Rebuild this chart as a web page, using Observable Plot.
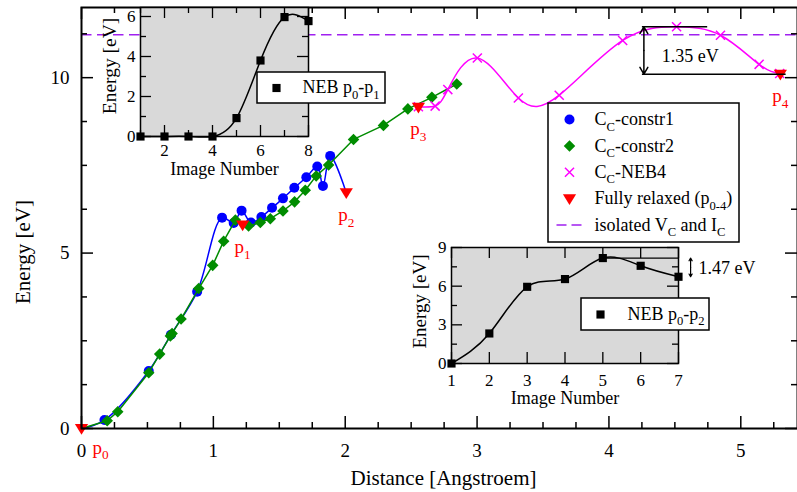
<!DOCTYPE html>
<html>
<head>
<meta charset="utf-8">
<script src="https://cdn.jsdelivr.net/npm/d3@7"></script>
<script src="https://cdn.jsdelivr.net/npm/@observablehq/plot@0.6"></script>
<style>
  body { margin: 0; background: #fff; }
  #chart { position: relative; width: 797px; height: 492px; overflow: hidden; background: #fff; }
  #chart svg { position: absolute; font-family: "Liberation Serif", "Times New Roman", serif !important; }
  #chart svg text { font-family: "Liberation Serif", "Times New Roman", serif !important; }
</style>
</head>
<body>
<div id="chart"></div>
<script>
// ---------------- DATA ----------------
const constr1X = [0, 0.174, 0.51, 0.678, 0.877, 1.066, 1.154, 1.214, 1.285, 1.364, 1.445, 1.528, 1.614, 1.705, 1.788, 1.831, 1.886, 2.008];
const constr1Y = [0, 0.24, 1.64, 2.67, 3.90, 6.01, 5.86, 6.21, 5.87, 6.03, 6.29, 6.56, 6.86, 7.16, 7.47, 6.91, 7.77, 6.72];

const constr2X = [0, 0.195, 0.275, 0.51, 0.593, 0.674, 0.687, 0.755, 0.889, 0.995, 1.078, 1.167, 1.267, 1.356, 1.432, 1.528, 1.616, 1.697, 1.78, 1.874, 2.063, 2.29, 2.475, 2.657, 2.846];
const constr2Y = [0, 0.22, 0.48, 1.59, 2.12, 2.64, 2.71, 3.12, 3.99, 4.65, 5.34, 5.94, 5.77, 5.87, 5.98, 6.20, 6.46, 6.79, 7.20, 7.51, 8.24, 8.64, 9.11, 9.44, 9.82];

const neb4X = [2.555, 2.682, 2.778, 3.002, 3.313, 3.623, 4.104, 4.513, 4.846, 5.139, 5.295];
const neb4Y = [9.17, 9.19, 9.66, 10.56, 9.42, 9.50, 11.06, 11.45, 11.21, 10.38, 10.12];

const relaxedNames = ["p_{0}", "p_{1}", "p_{2}", "p_{3}", "p_{4}"];
const relaxedX = [0, 1.222, 2.008, 2.555, 5.30];
const relaxedY = [0, 5.80, 6.72, 9.16, 10.10];

const isolatedEnergy = 11.22;

const legendLabels = ["C_{C}-constr1", "C_{C}-constr2", "C_{C}-NEB4", "Fully relaxed (p_{0-4})", "isolated V_{C} and I_{C}"];

// barrier annotation (main): peak of NEB4 vs p4
const mainBarrier = {label: "1.35 eV", x: 4.265, top: 11.45, bottom: 10.10, topEnd: 4.745, bottomEnd: 5.34, start: 4.25, labelX: 4.40, labelY: 10.62};

// inset 1 : NEB p0-p1
const neb01Image = [1, 2, 3, 4, 5, 6, 7, 8];
const neb01Energy = [0, 0, 0, 0, 0.92, 3.80, 5.97, 5.77];
const neb01Label = "NEB p_{0}-p_{1}";

// inset 2 : NEB p0-p2
const neb02Image = [1, 2, 3, 4, 5, 6, 7];
const neb02Energy = [0, 2.33, 5.95, 6.55, 8.18, 7.58, 6.73];
const neb02Label = "NEB p_{0}-p_{2}";
const insetBarrier = {label: "1.47 eV", x: 7.32, top: 8.18, bottom: 6.73, lineStart: 5, lineEnd: 7, labelX: 7.53, labelY: 7.37};

// tick labels
const mainXTicks = [0, 1, 2, 3, 4, 5];
const mainYTicks = [0, 5, 10];
const mainXMinor = [0.25, 0.5, 0.75, 1.25, 1.5, 1.75, 2.25, 2.5, 2.75, 3.25, 3.5, 3.75, 4.25, 4.5, 4.75, 5.25];
const mainYMinor = [1.25, 2.5, 3.75, 6.25, 7.5, 8.75, 11.25];
const in1XTicks = [2, 4, 6, 8], in1XMinor = [1, 3, 5, 7];
const in1YTicks = [0, 2, 4, 6], in1YMinor = [1, 3, 5];
const in2XTicks = [1, 2, 3, 4, 5, 6, 7];
const in2YTicks = [0, 3, 6, 9], in2YMinor = [1.5, 4.5, 7.5];

// ---------------- HELPERS ----------------
const zip = (xs, ys) => xs.map((x, i) => ({x, y: ys[i]}));
const c1 = zip(constr1X, constr1Y);
const c2 = zip(constr2X, constr2Y);
const neb4 = zip(neb4X, neb4Y);
const relaxed = relaxedX.map((x, i) => ({x, y: relaxedY[i], name: relaxedNames[i]}));
const neb01 = zip(neb01Image, neb01Energy);
const neb02 = zip(neb02Image, neb02Energy);

const FONT = '"Liberation Serif", "Times New Roman", serif';
const BLUE = "#0000ff", GREEN = "#008c00", MAGENTA = "#ff00ff", RED = "#ff0000", PURPLE = "#a020f0";
const T = {fontFamily: FONT, lineAnchor: "middle"};

const triangleDown = {
  draw(ctx, size) {
    const r = Math.sqrt(size / Math.PI);
    ctx.moveTo(-1.1 * r, -0.75 * r);
    ctx.lineTo(1.1 * r, -0.75 * r);
    ctx.lineTo(0, 1.05 * r);
    ctx.closePath();
  }
};

// page pixel -> data value (for decorations such as legend boxes)
const lin = (p0, p1, d0, d1) => p => d0 + (p - p0) / (p1 - p0) * (d1 - d0);

function boxTicks(xs, ys, len, fw, fh, sw) {
  const o = {stroke: "black", strokeWidth: sw};
  return [
    Plot.ruleX(xs, {x: d => d, insetTop: fh - len, ...o}),
    Plot.ruleX(xs, {x: d => d, insetBottom: fh - len, ...o}),
    Plot.ruleY(ys, {y: d => d, insetRight: fw - len, ...o}),
    Plot.ruleY(ys, {y: d => d, insetLeft: fw - len, ...o})
  ];
}

// ---------------- MAIN PLOT ----------------
const W = 797, H = 492;
const M = {top: 7, right: 0, bottom: 64, left: 81};
const FW = W - M.left - M.right, FH = H - M.top - M.bottom;
const xDom = [0, 5.43], yDom = [0, 12];
const X = lin(M.left, W - M.right, xDom[0], xDom[1]);
const Y = lin(H - M.bottom, M.top, yDom[0], yDom[1]);

const legRowY = i => 119 + i * 26.4;
const one = [0];

const main = Plot.plot({
  width: W, height: H,
  marginTop: M.top, marginRight: M.right, marginBottom: M.bottom, marginLeft: M.left,
  x: {domain: xDom, axis: null},
  y: {domain: yDom, axis: null},
  style: {"font-family": FONT, background: "white", overflow: "visible"},
  marks: [
    Plot.ruleY([isolatedEnergy], {y: d => d, stroke: PURPLE, strokeWidth: 1.5, strokeDasharray: "10.5,5.5"}),
    Plot.line(c1, {x: "x", y: "y", curve: "catmull-rom", stroke: BLUE, strokeWidth: 1.5}),
    Plot.dot(c1, {x: "x", y: "y", filter: (d, i) => i > 0 && i < c1.length - 1, r: 5, fill: BLUE, stroke: "none"}),
    Plot.line(c2, {x: "x", y: "y", curve: "linear", stroke: GREEN, strokeWidth: 1.5}),
    Plot.dot(c2, {x: "x", y: "y", filter: (d, i) => i > 0, symbol: "diamond2", r: 5.2, fill: GREEN, stroke: "none"}),
    Plot.line(neb4, {x: "x", y: "y", curve: "natural", stroke: MAGENTA, strokeWidth: 1.5}),
    Plot.dot(neb4, {x: "x", y: "y", symbol: "times", r: 4.2, fill: "none", stroke: MAGENTA, strokeWidth: 1.5}),
    Plot.dot(relaxed, {x: "x", y: "y", symbol: triangleDown, r: 6, fill: RED, stroke: "none"}),
    // relaxed labels
    Plot.text(relaxed, {x: "x", y: "y", text: "name", filter: (d, i) => i === 0, dx: 11, dy: 19, textAnchor: "start", fill: RED, fontSize: 19, ...T}),
    Plot.text(relaxed, {x: "x", y: "y", text: "name", filter: (d, i) => i > 0, dy: 22, textAnchor: "middle", fill: RED, fontSize: 19, ...T}),
    // barrier annotation
    Plot.link([mainBarrier], {x1: "start", x2: "topEnd", y1: "top", y2: "top", stroke: "black", strokeWidth: 1.5}),
    Plot.link([mainBarrier], {x1: "start", x2: "bottomEnd", y1: "bottom", y2: "bottom", stroke: "black", strokeWidth: 1.5}),
    Plot.arrow([mainBarrier], {x1: "x", x2: "x", y1: d => (d.top + d.bottom) / 2, y2: "top", headLength: 8, stroke: "black", strokeWidth: 1.5}),
    Plot.arrow([mainBarrier], {x1: "x", x2: "x", y1: d => (d.top + d.bottom) / 2, y2: "bottom", headLength: 8, stroke: "black", strokeWidth: 1.5}),
    Plot.text([mainBarrier], {x: "labelX", y: "labelY", text: "label", textAnchor: "start", fontSize: 18, ...T}),
    // legend
    Plot.rect(one, {x1: () => X(548), x2: () => X(739), y1: () => Y(103), y2: () => Y(242), fill: "white", stroke: "black", strokeWidth: 1.5}),
    Plot.dot(one, {x: () => X(569), y: () => Y(legRowY(0)), r: 5, fill: BLUE, stroke: "none"}),
    Plot.dot(one, {x: () => X(569), y: () => Y(legRowY(1)), symbol: "diamond2", r: 5.2, fill: GREEN, stroke: "none"}),
    Plot.dot(one, {x: () => X(569), y: () => Y(legRowY(2)), symbol: "times", r: 4.2, fill: "none", stroke: MAGENTA, strokeWidth: 1.5}),
    Plot.dot(one, {x: () => X(569), y: () => Y(legRowY(3)), symbol: triangleDown, r: 6, fill: RED, stroke: "none"}),
    Plot.link(one, {x1: () => X(556), x2: () => X(581), y1: () => Y(legRowY(4)), y2: () => Y(legRowY(4)), stroke: PURPLE, strokeWidth: 1.5, strokeDasharray: "10,5"}),
    Plot.text(legendLabels, {x: () => X(594), y: (d, i) => Y(legRowY(i)), text: d => d, textAnchor: "start", fontSize: 18, ...T}),
    // tick labels and titles
    Plot.text(mainXTicks, {x: d => d, text: d => String(d), frameAnchor: "bottom", dy: 22, textAnchor: "middle", fontSize: 19, ...T}),
    Plot.text(mainYTicks, {y: d => d, text: d => String(d), frameAnchor: "left", dx: -12, textAnchor: "end", fontSize: 19, ...T}),
    Plot.text(["Distance [Angstroem]"], {text: d => d, frameAnchor: "bottom", dx: 4, dy: 50, textAnchor: "middle", fontSize: 21, ...T}),
    Plot.text(["Energy [eV]"], {text: d => d, frameAnchor: "left", dx: -58, dy: 34, rotate: -90, textAnchor: "middle", fontSize: 21, ...T}),
    Plot.frame({stroke: "black", strokeWidth: 2}),
    ...boxTicks(mainXTicks, mainYTicks, 12, FW, FH, 1.5),
    ...boxTicks(mainXMinor, mainYMinor, 6, FW, FH, 1.5)
  ]
});

// ---------------- INSET 1 ----------------
const I1 = {left: 100, top: 0, width: 290, height: 185, ml: 40, mt: 7, mr: 82, mb: 49};
const I1FW = I1.width - I1.ml - I1.mr, I1FH = I1.height - I1.mt - I1.mb;
const in1XDom = [1, 8], in1YDom = [0, 6.45];
const X1 = lin(I1.left + I1.ml, I1.left + I1.width - I1.mr, in1XDom[0], in1XDom[1]);
const Y1 = lin(I1.top + I1.height - I1.mb, I1.top + I1.mt, in1YDom[0], in1YDom[1]);

const inset1 = Plot.plot({
  width: I1.width, height: I1.height,
  marginTop: I1.mt, marginRight: I1.mr, marginBottom: I1.mb, marginLeft: I1.ml,
  x: {domain: in1XDom, axis: null},
  y: {domain: in1YDom, axis: null},
  style: {"font-family": FONT, background: "transparent", overflow: "visible"},
  marks: [
    Plot.frame({fill: "#d9d9d9"}),
    Plot.line(neb01, {x: "x", y: "y", curve: "natural", stroke: "black", strokeWidth: 1.5}),
    Plot.dot(neb01, {x: "x", y: "y", symbol: "square", r: 4.6, fill: "black", stroke: "none"}),
    Plot.text(in1XTicks, {x: d => d, text: d => String(d), frameAnchor: "bottom", dy: 14, textAnchor: "middle", fontSize: 17, ...T}),
    Plot.text(in1YTicks, {y: d => d, text: d => String(d), frameAnchor: "left", dx: -5, textAnchor: "end", fontSize: 17, ...T}),
    Plot.text(["Image Number"], {text: d => d, frameAnchor: "bottom", dy: 33, textAnchor: "middle", fontSize: 18, ...T}),
    Plot.text(["Energy [eV]"], {text: d => d, frameAnchor: "left", dx: -31, dy: -6, rotate: -90, textAnchor: "middle", fontSize: 19.5, ...T}),
    Plot.frame({stroke: "black", strokeWidth: 1.5}),
    ...boxTicks(in1XTicks, in1YTicks, 11, I1FW, I1FH, 1.3),
    ...boxTicks(in1XMinor, in1YMinor, 6, I1FW, I1FH, 1.3),
    // legend
    Plot.rect(one, {x1: () => X1(257), x2: () => X1(385), y1: () => Y1(72), y2: () => Y1(103), fill: "white", stroke: "black", strokeWidth: 1.5}),
    Plot.dot(one, {x: () => X1(276), y: () => Y1(87.5), symbol: "square", r: 4.6, fill: "black", stroke: "none"}),
    Plot.text([neb01Label], {x: () => X1(302), y: () => Y1(87), text: d => d, textAnchor: "start", fontSize: 18, ...T})
  ]
});

// ---------------- INSET 2 ----------------
const I2 = {left: 400, top: 236, width: 370, height: 170, ml: 51, mt: 11, mr: 92, mb: 43};
const I2FW = I2.width - I2.ml - I2.mr, I2FH = I2.height - I2.mt - I2.mb;
const in2XDom = [1, 7], in2YDom = [0, 9];
const X2 = lin(I2.left + I2.ml, I2.left + I2.width - I2.mr, in2XDom[0], in2XDom[1]);
const Y2 = lin(I2.top + I2.height - I2.mb, I2.top + I2.mt, in2YDom[0], in2YDom[1]);

const inset2 = Plot.plot({
  width: I2.width, height: I2.height,
  marginTop: I2.mt, marginRight: I2.mr, marginBottom: I2.mb, marginLeft: I2.ml,
  x: {domain: in2XDom, axis: null},
  y: {domain: in2YDom, axis: null},
  style: {"font-family": FONT, background: "transparent", overflow: "visible"},
  marks: [
    Plot.frame({fill: "#d9d9d9"}),
    Plot.link([insetBarrier], {x1: "lineStart", x2: "lineEnd", y1: "top", y2: "top", stroke: "black", strokeWidth: 1.3}),
    Plot.line(neb02, {x: "x", y: "y", curve: "natural", stroke: "black", strokeWidth: 1.5}),
    Plot.dot(neb02, {x: "x", y: "y", symbol: "square", r: 4.6, fill: "black", stroke: "none"}),
    Plot.arrow([insetBarrier], {x1: "x", x2: "x", y1: d => (d.top + d.bottom) / 2, y2: "top", headLength: 6, stroke: "black", strokeWidth: 1.2}),
    Plot.arrow([insetBarrier], {x1: "x", x2: "x", y1: d => (d.top + d.bottom) / 2, y2: "bottom", headLength: 6, stroke: "black", strokeWidth: 1.2}),
    Plot.text([insetBarrier], {x: "labelX", y: "labelY", text: "label", textAnchor: "start", fontSize: 18, ...T}),
    Plot.text(in2XTicks, {x: d => d, text: d => String(d), frameAnchor: "bottom", dy: 17, textAnchor: "middle", fontSize: 17, ...T}),
    Plot.text(in2YTicks, {y: d => d, text: d => String(d), frameAnchor: "left", dx: -5, textAnchor: "end", fontSize: 17, ...T}),
    Plot.text(["Image Number"], {text: d => d, frameAnchor: "bottom", dy: 35, textAnchor: "middle", fontSize: 18, ...T}),
    Plot.text(["Energy [eV]"], {text: d => d, frameAnchor: "left", dx: -32, dy: -4, rotate: -90, textAnchor: "middle", fontSize: 19, ...T}),
    Plot.frame({stroke: "black", strokeWidth: 1.5}),
    ...boxTicks(in2XTicks, in2YTicks, 11, I2FW, I2FH, 1.3),
    ...boxTicks([], in2YMinor, 6, I2FW, I2FH, 1.3),
    // legend
    Plot.rect(one, {x1: () => X2(581), x2: () => X2(709), y1: () => Y2(298), y2: () => Y2(330), fill: "white", stroke: "black", strokeWidth: 1.5}),
    Plot.dot(one, {x: () => X2(600), y: () => Y2(314), symbol: "square", r: 4.6, fill: "black", stroke: "none"}),
    Plot.text([neb02Label], {x: () => X2(627), y: () => Y2(313.5), text: d => d, textAnchor: "start", fontSize: 18, ...T})
  ]
});

// ---------------- ASSEMBLY ----------------
const chart = document.getElementById("chart");
function place(svg, left, top) {
  svg.style.position = "absolute";
  svg.style.left = left + "px";
  svg.style.top = top + "px";
  svg.style.maxWidth = "none";
  svg.style.fontFamily = FONT;
  chart.appendChild(svg);
}
place(main, 0, 0);
place(inset1, I1.left, I1.top);
place(inset2, I2.left, I2.top);

// subscripts written as _{...}
function applySubscripts(root) {
  root.querySelectorAll("text").forEach(t => {
    const s = t.textContent;
    if (!s.includes("_{")) return;
    const fs = parseFloat(getComputedStyle(t).fontSize) || 16;
    const shift = fs * 0.3;
    t.textContent = "";
    const re = /_\{([^}]*)\}/g;
    let last = 0, m, lowered = false;
    const add = (str, sub) => {
      if (!str) return;
      const ts = document.createElementNS("http://www.w3.org/2000/svg", "tspan");
      ts.textContent = str;
      if (sub) {
        ts.setAttribute("font-size", (fs * 0.7).toFixed(1));
        if (!lowered) { ts.setAttribute("dy", shift.toFixed(1)); lowered = true; }
      } else if (lowered) {
        ts.setAttribute("dy", (-shift).toFixed(1)); lowered = false;
      }
      t.appendChild(ts);
    };
    while ((m = re.exec(s))) { add(s.slice(last, m.index), false); add(m[1], true); last = re.lastIndex; }
    add(s.slice(last), false);
  });
}
applySubscripts(chart);
</script>
</body>
</html>
